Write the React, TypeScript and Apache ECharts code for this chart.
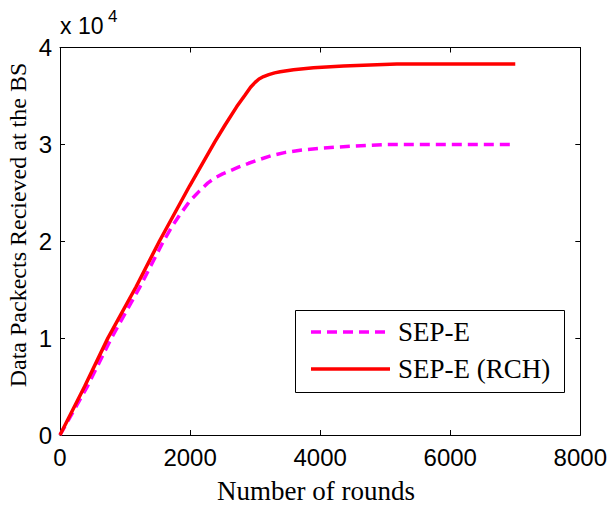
import React, { useEffect, useRef } from "react";
import * as echarts from "echarts";

const seriesNames = ["SEP-E", "SEP-E (RCH)"];
const sepE: [number, number][] = [
  [0, 0], [420, 5000], [790, 10000], [1230, 15300], [1590, 20000], [1720, 21500],
  [1839, 22700], [1990, 24100], [2146, 25200], [2270, 26000], [2385, 26550],
  [2500, 26950], [2590, 27200], [2743, 27650], [2900, 28050], [3050, 28400],
  [3256, 28850], [3450, 29150], [3692, 29400], [4000, 29600], [4462, 29800],
  [5026, 30000], [7000, 30000],
];
const sepERch: [number, number][] = [
  [0, 0], [378, 5000], [736, 10000], [1170, 15300], [1528, 20000], [1992, 25700],
  [2385, 30300], [2538, 32000], [2718, 33900], [2846, 35100], [2930, 35900],
  [3000, 36400], [3060, 36750], [3130, 37000], [3210, 37200], [3300, 37380],
  [3385, 37500], [3590, 37700], [3897, 37900], [4359, 38100], [5180, 38300],
  [7000, 38300],
];
const xTicks = { min: 0, max: 8000, interval: 2000 };
const yTicks = { min: 0, max: 40000, interval: 10000 };
const xLabel = "Number of rounds";
const yLabel = "Data Packects Recieved at the BS";
const colors = ["#ff00ff", "#ff0000"];

const serif = "'Liberation Serif', 'Times New Roman', serif";
const sans = "'Liberation Sans', Arial, sans-serif";

export default function App() {
  const ref = useRef<HTMLDivElement>(null);
  useEffect(() => {
    if (!ref.current) return;
    const chart = echarts.init(ref.current, null, { renderer: "svg" });
    const axisCommon = {
      axisLine: { show: true, onZero: false, lineStyle: { color: "#000", width: 1 } },
      axisTick: { show: true, inside: true, length: 5, lineStyle: { color: "#000" } },
      splitLine: { show: false },
    };
    const legendX = 295, legendY = 310, legendW = 269, legendH = 82;
    const rowY = [332, 369];
    chart.setOption({
      animation: false,
      backgroundColor: "#fff",
      grid: { left: 60, top: 47.5, right: 28, bottom: 73, containLabel: false },
      xAxis: [
        {
          type: "value", ...xTicks, position: "bottom", ...axisCommon,
          axisLabel: { color: "#000", fontFamily: sans, fontSize: 24, margin: 10, formatter: (v: number) => String(v) },
        },
        {
          type: "value", ...xTicks, position: "top", ...axisCommon,
          axisLabel: { show: false },
        },
      ],
      yAxis: [
        {
          type: "value", ...yTicks, position: "left", ...axisCommon,
          axisLabel: {
            color: "#000", fontFamily: sans, fontSize: 24, margin: 8,
            formatter: (v: number) => String(v / 10000),
          },
        },
        {
          type: "value", ...yTicks, position: "right", ...axisCommon,
          axisLabel: { show: false },
        },
      ],
      graphic: [
        {
          type: "text", x: 18, y: 225, rotation: Math.PI / 2,
          style: { text: yLabel, fill: "#000", font: `24px ${serif}`, align: "center", verticalAlign: "middle" },
        },
        {
          type: "text", x: 316, y: 491,
          style: { text: xLabel, fill: "#000", font: `27px ${serif}`, align: "center", verticalAlign: "middle" },
        },
        {
          type: "text", x: 60, y: 26,
          style: { text: "x 10", fill: "#000", font: `23px ${sans}`, align: "left", verticalAlign: "middle" },
        },
        {
          type: "text", x: 108, y: 16,
          style: { text: "4", fill: "#000", font: `17px ${sans}`, align: "left", verticalAlign: "middle" },
        },
        {
          type: "group", z: 100,
          children: [
            {
              type: "rect", shape: { x: legendX + 0.5, y: legendY + 0.5, width: legendW, height: legendH },
              style: { fill: "#fff", stroke: "#000", lineWidth: 1 },
            },
            {
              type: "line", shape: { x1: 311, y1: rowY[0], x2: 390, y2: rowY[0] },
              style: { stroke: colors[0], lineWidth: 3.5, lineDash: [10, 6] },
            },
            {
              type: "line", shape: { x1: 311, y1: rowY[1], x2: 390, y2: rowY[1] },
              style: { stroke: colors[1], lineWidth: 3.5 },
            },
            {
              type: "text", x: 398, y: rowY[0],
              style: { text: seriesNames[0], fill: "#000", font: `27px ${serif}`, align: "left", verticalAlign: "middle" },
            },
            {
              type: "text", x: 398, y: rowY[1],
              style: { text: seriesNames[1], fill: "#000", font: `27px ${serif}`, align: "left", verticalAlign: "middle" },
            },
          ],
        },
      ],
      series: [
        {
          name: seriesNames[0], type: "line", data: sepE, symbol: "none",
          lineStyle: { color: colors[0], width: 3.5, type: [10, 6] },
          itemStyle: { color: colors[0] },
        },
        {
          name: seriesNames[1], type: "line", data: sepERch, symbol: "none",
          lineStyle: { color: colors[1], width: 3.5, type: "solid" },
          itemStyle: { color: colors[1] },
        },
      ],
    });
    return () => chart.dispose();
  }, []);
  return <div ref={ref} style={{ width: 610, height: 508, position: "absolute", left: 0, top: 0 }} />;
}
